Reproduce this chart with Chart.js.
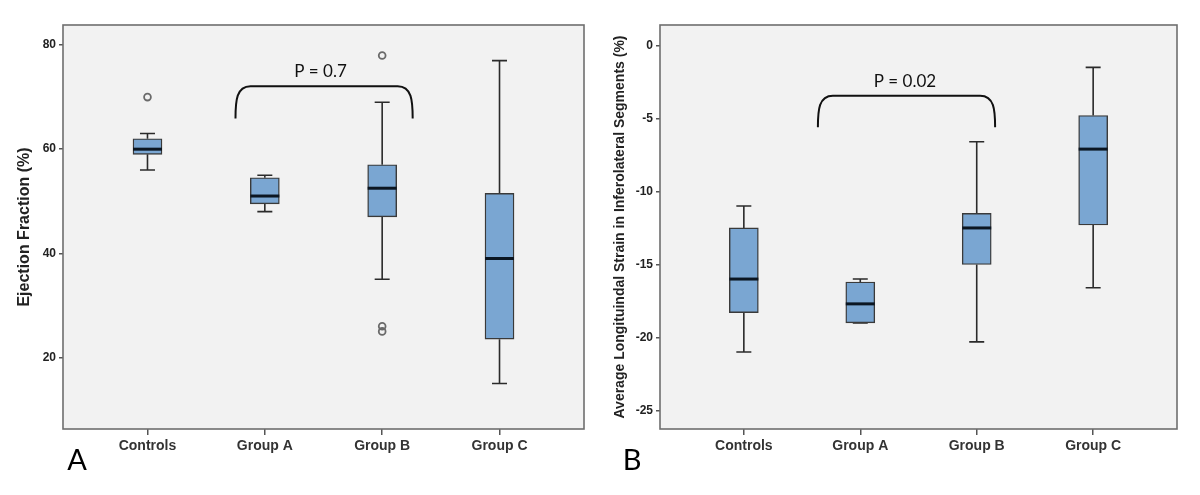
<!DOCTYPE html>
<html><head><meta charset="utf-8">
<script src="https://cdn.jsdelivr.net/npm/chart.js@4.4.1/dist/chart.umd.min.js"></script>
<style>
html,body{margin:0;padding:0;background:#fff;}
#wrap{position:relative;width:1200px;height:495px;overflow:hidden;}
.panel{position:absolute;top:0;width:600px;height:495px;}
canvas{display:block;}
</style></head><body>
<div id="wrap">
<div class="panel" style="left:0"><canvas id="c1" width="600" height="495"></canvas></div>
<div class="panel" style="left:600px"><canvas id="c2" width="600" height="495"></canvas></div>
</div>
<script>
// ---------- DATA ----------
const categories = ['Controls', 'Group A', 'Group B', 'Group C'];

// Panel A: Ejection Fraction (%)
const efMin      = [56, 48, 35, 15];
const efQ1       = [59, 49.5, 47, 23.5];
const efMedian   = [60, 51, 52.5, 39];
const efQ3       = [62, 54.5, 57, 51.5];
const efMax      = [63, 55, 69, 77];
const efOutliers = [[70], [], [78, 26, 25], []];
const efTicks    = [20, 40, 60, 80];

// Panel B: Average longitudinal strain in inferolateral segments (%)
const slMin      = [-21, -19, -20.3, -16.6];
const slQ1       = [-18.3, -19, -15, -12.3];
const slMedian   = [-16, -17.7, -12.5, -7.1];
const slQ3       = [-12.5, -16.2, -11.5, -4.8];
const slMax      = [-11, -16, -6.6, -1.5];
const slOutliers = [[], [], [], []];
const slTicks    = [0, -5, -10, -15, -20, -25];

const pLabelA = 'P = 0.7';
const pLabelB = 'P = 0.02';

// ---------- STYLE ----------
const PLOT_BG = '#F2F2F2';
const FRAME = '#6E6E6E';
const BOX_FILL = '#7AA6D2';
const BOX_EDGE = '#3A3A3A';
const WHISKER = '#2B2B2B';
const MEDIAN = '#0B1622';
const OUTLIER = '#6A6A6A';
const CAP = 15;
const SANS = "'Liberation Sans', Arial, sans-serif";

function boxPlugin(stats, bracket, letter) {
  return {
    id: 'boxparts',
    beforeDraw(chart) {
      const {ctx, chartArea: a} = chart;
      ctx.save();
      ctx.fillStyle = PLOT_BG;
      ctx.fillRect(a.left, a.top, a.right - a.left, a.bottom - a.top);
      ctx.restore();
    },
    beforeDatasetsDraw(chart) {
      const {ctx, scales: {x, y}} = chart;
      ctx.save();
      ctx.strokeStyle = WHISKER;
      ctx.lineWidth = 1.6;
      stats.min.forEach((mn, i) => {
        const px = x.getPixelForValue(i);
        const yMin = y.getPixelForValue(mn);
        const yQ1 = y.getPixelForValue(stats.q1[i]);
        const yQ3 = y.getPixelForValue(stats.q3[i]);
        const yMax = y.getPixelForValue(stats.max[i]);
        ctx.beginPath();
        ctx.moveTo(px, yQ3); ctx.lineTo(px, yMax);
        ctx.moveTo(px, yQ1); ctx.lineTo(px, yMin);
        ctx.moveTo(px - CAP / 2, yMax); ctx.lineTo(px + CAP / 2, yMax);
        ctx.moveTo(px - CAP / 2, yMin); ctx.lineTo(px + CAP / 2, yMin);
        ctx.stroke();
      });
      ctx.restore();
    },
    afterDatasetsDraw(chart) {
      const {ctx, scales: {x, y}} = chart;
      ctx.save();
      // medians
      ctx.strokeStyle = MEDIAN;
      ctx.lineWidth = 3;
      stats.median.forEach((md, i) => {
        const px = x.getPixelForValue(i);
        const py = y.getPixelForValue(md);
        ctx.beginPath();
        ctx.moveTo(px - 14.5, py); ctx.lineTo(px + 14.5, py);
        ctx.stroke();
      });
      // bracket
      const xl = x.getPixelForValue(bracket.x0), xr = x.getPixelForValue(bracket.x1);
      const yt = y.getPixelForValue(bracket.top), yb = y.getPixelForValue(bracket.bottom);
      const h = yb - yt;
      ctx.strokeStyle = '#111';
      ctx.lineWidth = 2;
      ctx.beginPath();
      ctx.moveTo(xl, yb);
      ctx.bezierCurveTo(xl, yb - h * 0.55, xl + 1, yt, xl + 15, yt);
      ctx.lineTo(xr - 15, yt);
      ctx.bezierCurveTo(xr - 1, yt, xr, yb - h * 0.55, xr, yb);
      ctx.stroke();
      ctx.fillStyle = '#111';
      ctx.font = "17px Lato, 'Open Sans', sans-serif";
      ctx.textAlign = 'center';
      ctx.textBaseline = 'middle';
      ctx.fillText(bracket.label, x.getPixelForValue(bracket.labelX), y.getPixelForValue(bracket.labelY));
      ctx.restore();
    },
    afterDraw(chart) {
      const {ctx, chartArea: a} = chart;
      ctx.save();
      ctx.strokeStyle = FRAME;
      ctx.lineWidth = 1.6;
      ctx.strokeRect(a.left, a.top, a.right - a.left, a.bottom - a.top);
      ctx.fillStyle = '#000';
      ctx.font = "29px Lato, 'Open Sans', sans-serif";
      ctx.textAlign = 'center';
      ctx.textBaseline = 'alphabetic';
      ctx.fillText(letter.text, letter.x, letter.y);
      ctx.restore();
    }
  };
}

function makeChart(id, o) {
  const boxData = categories.map((c, i) => ({x: i, y: [o.q1[i], o.q3[i]]}));
  const outData = [];
  o.outliers.forEach((arr, i) => arr.forEach(v => outData.push({x: i, y: v})));
  return new Chart(document.getElementById(id), {
    type: 'bar',
    data: {
      datasets: [
        {
          type: 'bar',
          data: boxData,
          backgroundColor: BOX_FILL,
          borderColor: BOX_EDGE,
          borderWidth: 1.4,
          borderSkipped: false,
          barThickness: 29,
          order: 2
        },
        {
          type: 'scatter',
          data: outData,
          pointStyle: 'circle',
          pointRadius: 3.4,
          pointBorderWidth: 1.8,
          pointBorderColor: OUTLIER,
          pointBackgroundColor: 'rgba(0,0,0,0)',
          order: 1
        }
      ]
    },
    options: {
      responsive: false,
      animation: false,
      devicePixelRatio: 1,
      layout: {padding: {top: 25, right: o.padRight, left: 0, bottom: 0}},
      plugins: {legend: {display: false}, tooltip: {enabled: false}},
      scales: {
        x: {
          type: 'linear',
          offset: false,
          min: -0.72, max: 3.72,
          afterBuildTicks: s => { s.ticks = categories.map((c, i) => ({value: i})); },
          afterFit: s => { s.height = 66; },
          ticks: {
            autoSkip: false, maxRotation: 0, padding: 3,
            color: '#333',
            font: {family: SANS, size: 14, weight: 'bold'},
            callback: v => categories[v]
          },
          grid: {offset: false, drawOnChartArea: false, drawTicks: true, tickLength: 6, color: '#555', lineWidth: 1.5},
          border: {display: false}
        },
        y: {
          type: 'linear',
          min: o.yMin, max: o.yMax,
          afterBuildTicks: s => { s.ticks = o.ticks.map(v => ({value: v})); },
          afterFit: s => { s.width = o.yWidth; },
          ticks: {
            padding: 3, color: '#222',
            font: {family: SANS, size: 12, weight: 'bold'},
            callback: v => String(v)
          },
          grid: {drawOnChartArea: false, drawTicks: true, tickLength: 4, color: '#555', lineWidth: 1.5},
          border: {display: false},
          title: {
            display: true, text: o.title, color: '#222',
            font: {family: SANS, size: o.titleSize, weight: 'bold'},
            padding: {top: o.titlePad, bottom: 0}
          }
        }
      }
    },
    plugins: [boxPlugin(
      {min: o.min, q1: o.q1, median: o.median, q3: o.q3, max: o.max},
      o.bracket, o.letter)]
  });
}

makeChart('c1', {
  min: efMin, q1: efQ1, median: efMedian, q3: efQ3, max: efMax, outliers: efOutliers,
  ticks: efTicks, yMin: 6.25, yMax: 83.85, yWidth: 63, padRight: 16,
  title: 'Ejection Fraction (%)', titleSize: 16, titlePad: 15,
  bracket: {x0: 0.75, x1: 2.26, top: 72.1, bottom: 65.9, label: pLabelA, labelX: 1.475, labelY: 74.9},
  letter: {text: 'A', x: 77, y: 470}
});

makeChart('c2', {
  min: slMin, q1: slQ1, median: slMedian, q3: slQ3, max: slMax, outliers: slOutliers,
  ticks: slTicks, yMin: -26.27, yMax: 1.4, yWidth: 60, padRight: 23,
  title: 'Average Longituindal Strain in Inferolateral Segments (%)', titleSize: 14, titlePad: 12,
  bracket: {x0: 0.636, x1: 2.158, top: -3.44, bottom: -5.6, label: pLabelB, labelX: 1.384, labelY: -2.48},
  letter: {text: 'B', x: 32, y: 470}
});
</script>
</body></html>
